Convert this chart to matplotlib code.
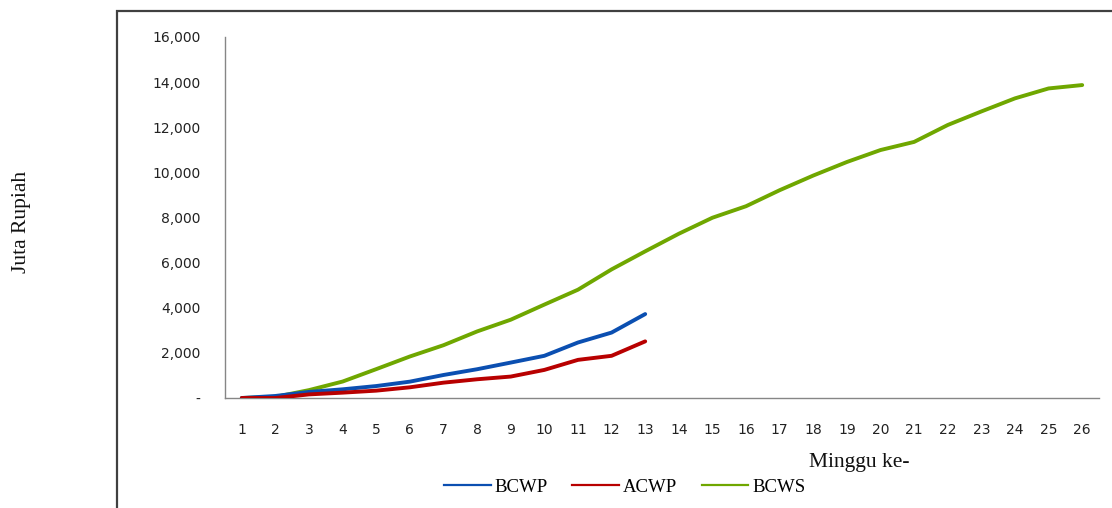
import matplotlib
matplotlib.use("Agg")
import matplotlib.pyplot as plt
from matplotlib.patches import Rectangle
from matplotlib.lines import Line2D
from matplotlib.ticker import FuncFormatter

# Weekly cumulative values (Juta Rupiah)
weeks = list(range(1, 27))
bcws = [0, 50, 350, 730, 1280, 1840, 2340, 2950, 3470, 4140, 4800, 5700,
        6500, 7280, 7990, 8500, 9210, 9860, 10460, 10990, 11350, 12100,
        12700, 13280, 13720, 13870]
bcwp = [0, 90, 270, 385, 530, 725, 1020, 1275, 1570, 1870, 2460, 2900, 3720]
acwp = [0, 0, 160, 237, 326, 474, 680, 830, 950, 1245, 1690, 1870, 2510]

series_names = ["BCWP", "ACWP", "BCWS"]
series_colors = ["#0b4fb1", "#b80000", "#6fa700"]

W, H = 1112, 508
fig = plt.figure(figsize=(W / 100, H / 100), dpi=100)
fig.patch.set_facecolor("white")

# outer chart frame
fig.add_artist(Rectangle((117 / W, -0.2), 2.0, 1.2 - 11 / H,
                         transform=fig.transFigure, fill=False,
                         ec="#404040", lw=1.6, clip_on=False))

ax = fig.add_axes([225 / W, 1 - 398 / H, (1099 - 225) / W, (398 - 37) / H])

ax.plot(weeks, bcws, color=series_colors[2], lw=2.8, solid_capstyle="round",
        solid_joinstyle="round", zorder=3)
ax.plot(weeks[:len(bcwp)], bcwp, color=series_colors[0], lw=2.8,
        solid_capstyle="round", solid_joinstyle="round", zorder=4)
ax.plot(weeks[:len(acwp)], acwp, color=series_colors[1], lw=2.8,
        solid_capstyle="round", solid_joinstyle="round", zorder=5)

ax.set_xlim(0.5, 26.5)
ax.set_ylim(0, 16000)
ax.set_xticks(weeks)
ax.set_yticks(range(0, 16001, 2000))
ax.yaxis.set_major_formatter(FuncFormatter(lambda v, p: "-" if v == 0 else f"{int(v):,}"))

for s in ("top", "right"):
    ax.spines[s].set_visible(False)
for s in ("left", "bottom"):
    ax.spines[s].set_color("#868686")
    ax.spines[s].set_linewidth(1.0)

ax.tick_params(axis="both", length=0, labelsize=10, colors="#222222")
ax.tick_params(axis="y", pad=17.5)
ax.tick_params(axis="x", pad=18)

fig.text(22 / W, 1 - 222 / H, "Juta Rupiah", rotation=90, ha="center",
         va="center", family="Liberation Serif", fontsize=15.5, color="#111111")
fig.text(859 / W, 1 - 463 / H, "Minggu ke-", ha="center", va="center",
         family="Liberation Serif", fontsize=15.5, color="#111111")

handles = [Line2D([], [], color=c, lw=1.6) for c in series_colors]
fig.legend(handles, series_names, loc="center left",
           bbox_to_anchor=(444 / W, 1 - 487 / H), ncol=3, frameon=False,
           prop={"family": "Liberation Serif", "size": 13.5},
           handlelength=2.5, handletextpad=0.2, columnspacing=1.3,
           borderpad=0, borderaxespad=0)

fig.savefig("out.png", dpi=100, facecolor="white")
